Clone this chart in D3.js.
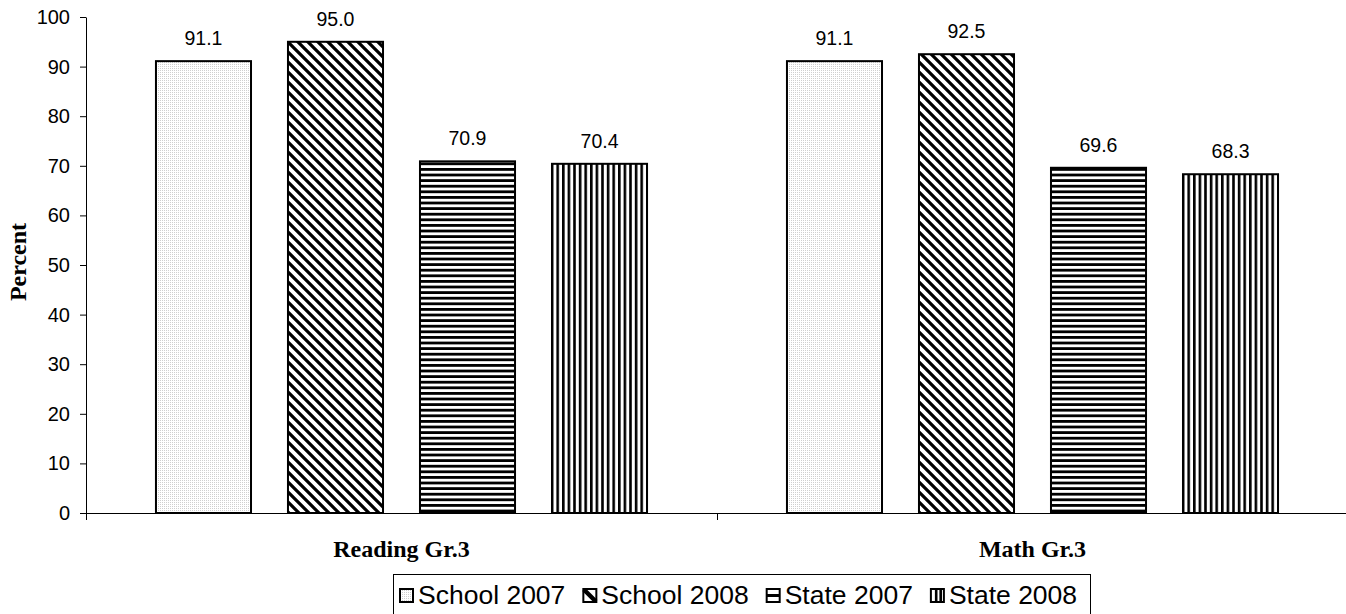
<!DOCTYPE html>
<html><head><meta charset="utf-8">
<script src="https://cdn.jsdelivr.net/npm/d3@7"></script>
<style>body{margin:0;background:#fff;}svg{display:block;}</style>
</head><body>
<svg id="chart" width="1346" height="614"></svg>
<script>
const categories = ["Reading Gr.3", "Math Gr.3"];
const seriesNames = ["School 2007", "School 2008", "State 2007", "State 2008"];
const school2007 = [91.1, 91.1];
const school2008 = [95.0, 92.5];
const state2007 = [70.9, 69.6];
const state2008 = [70.4, 68.3];
const yTicks = [0, 10, 20, 30, 40, 50, 60, 70, 80, 90, 100];
const seriesValues = [school2007, school2008, state2007, state2008];
const patternIds = ["pDots", "pDiag", "pHoriz", "pVert"];

const sans = "Arial, 'Liberation Sans', sans-serif";
const serif = "'Times New Roman', 'Liberation Serif', serif";

const svg = d3.select("#chart");
const defs = svg.append("defs");

// Patterns
const pd = defs.append("pattern").attr("id","pDots").attr("patternUnits","userSpaceOnUse").attr("width",2).attr("height",2);
pd.append("rect").attr("width",2).attr("height",2).attr("fill","#fff");
pd.append("rect").attr("width",1).attr("height",1).attr("fill","#cfcfcf");
const pg = defs.append("pattern").attr("id","pDiag").attr("patternUnits","userSpaceOnUse").attr("width",10).attr("height",10);
pg.append("rect").attr("width",10).attr("height",10).attr("fill","#fff");
pg.append("path").attr("d","M-5,-5 L15,15 M-5,5 L5,15 M5,-5 L15,5").attr("stroke","#000").attr("stroke-width",3.2);
const ph = defs.append("pattern").attr("id","pHoriz").attr("patternUnits","userSpaceOnUse").attr("width",6).attr("height",5.6);
ph.append("rect").attr("width",6).attr("height",5.6).attr("fill","#fff");
ph.append("rect").attr("y",0).attr("width",6).attr("height",2.8).attr("fill","#000");
const pv = defs.append("pattern").attr("id","pVert").attr("patternUnits","userSpaceOnUse").attr("width",5.6).attr("height",6);
pv.append("rect").attr("width",5.6).attr("height",6).attr("fill","#fff");
pv.append("rect").attr("x",0).attr("width",2.6).attr("height",6).attr("fill","#000");

const plotLeft = 86, plotRight = 1348, plotTop = 17, plotBottom = 513;
const x0 = d3.scaleBand().domain(categories).range([plotLeft, plotRight]).padding(0);
const x1 = d3.scaleBand().domain(seriesNames).range([0, x0.bandwidth()]).paddingInner(0.28).paddingOuter(0.53);
const y = d3.scaleLinear().domain([0, 100]).range([plotBottom, plotTop]);

// Y axis
const yAxis = svg.append("g").attr("transform",`translate(${plotLeft},0)`)
  .call(d3.axisLeft(y).tickValues(yTicks).tickSize(6).tickSizeOuter(0).tickPadding(10));
yAxis.select(".domain").attr("stroke","#000");
yAxis.selectAll(".tick line").attr("stroke","#000");
yAxis.selectAll(".tick text").attr("font-family",sans).attr("font-size",20).attr("fill","#000");

// X axis
const xAxis = svg.append("g").attr("transform",`translate(0,${plotBottom})`)
  .call(d3.axisBottom(x0).tickValues([]).tickSizeOuter(0));
xAxis.select(".domain").attr("stroke","#000");
const boundaries = [plotLeft, plotLeft + x0.bandwidth(), plotRight];
xAxis.selectAll("line.bnd").data(boundaries).enter().append("line").attr("class","bnd")
  .attr("x1",d=>d+0.5).attr("x2",d=>d+0.5).attr("y1",0).attr("y2",7).attr("stroke","#000");

// Bars
const groups = svg.append("g").selectAll("g").data(categories).enter().append("g")
  .attr("transform",d=>`translate(${x0(d)},0)`);
groups.each(function(cat, ci){
  const g = d3.select(this);
  seriesNames.forEach((s, si) => {
    const v = seriesValues[si][ci];
    g.append("rect").attr("x", x1(s)).attr("y", y(v)).attr("width", x1.bandwidth()).attr("height", y(0)-y(v))
      .attr("fill", `url(#${patternIds[si]})`).attr("stroke","#000").attr("stroke-width",2);
    g.append("text").attr("x", x1(s)+x1.bandwidth()/2).attr("y", y(v)-16)
      .attr("text-anchor","middle").attr("font-family",sans).attr("font-size",19.5).attr("fill","#000")
      .text(v.toFixed(1));
  });
});

// Category labels
svg.append("g").selectAll("text").data(categories).enter().append("text")
  .attr("x", d=>x0(d)+x0.bandwidth()/2).attr("y", 557)
  .attr("text-anchor","middle").attr("font-family",serif).attr("font-weight","bold").attr("font-size",24)
  .text(d=>d);

// Y title
svg.append("text").attr("transform","translate(26,262) rotate(-90)").attr("text-anchor","middle")
  .attr("font-family",serif).attr("font-weight","bold").attr("font-size",24).text("Percent");

// Legend
const lg = svg.append("g");
lg.append("rect").attr("x",393.5).attr("y",574.5).attr("width",697).attr("height",45).attr("fill","#fff").attr("stroke","#000").attr("stroke-width",1);
let lx = 399;
const sy = 588;
seriesNames.forEach((s, si) => {
  lg.append("rect").attr("x", lx+1).attr("y", sy+1).attr("width",13).attr("height",13)
    .attr("fill", si===0 ? "url(#pDots)" : "#fff").attr("stroke","#000").attr("stroke-width",2);
  if (si===1) lg.append("path").attr("d",`M${lx+1.5},${sy+1.5} L${lx+13.5},${sy+13.5}`).attr("stroke","#000").attr("stroke-width",4.5);
  if (si===2) lg.append("rect").attr("x",lx+1).attr("y",sy+6).attr("width",13).attr("height",3).attr("fill","#000");
  if (si===3) { lg.append("rect").attr("x",lx+5).attr("y",sy+1).attr("width",2.6).attr("height",13).attr("fill","#000");
                lg.append("rect").attr("x",lx+9.5).attr("y",sy+1).attr("width",2.6).attr("height",13).attr("fill","#000"); }
  const t = lg.append("text").attr("x", lx+19).attr("y", 604).attr("font-family",sans).attr("font-size",26.5).text(s);
  lx = lx + 19 + t.node().getComputedTextLength() + 17;
});
</script>
</body></html>
